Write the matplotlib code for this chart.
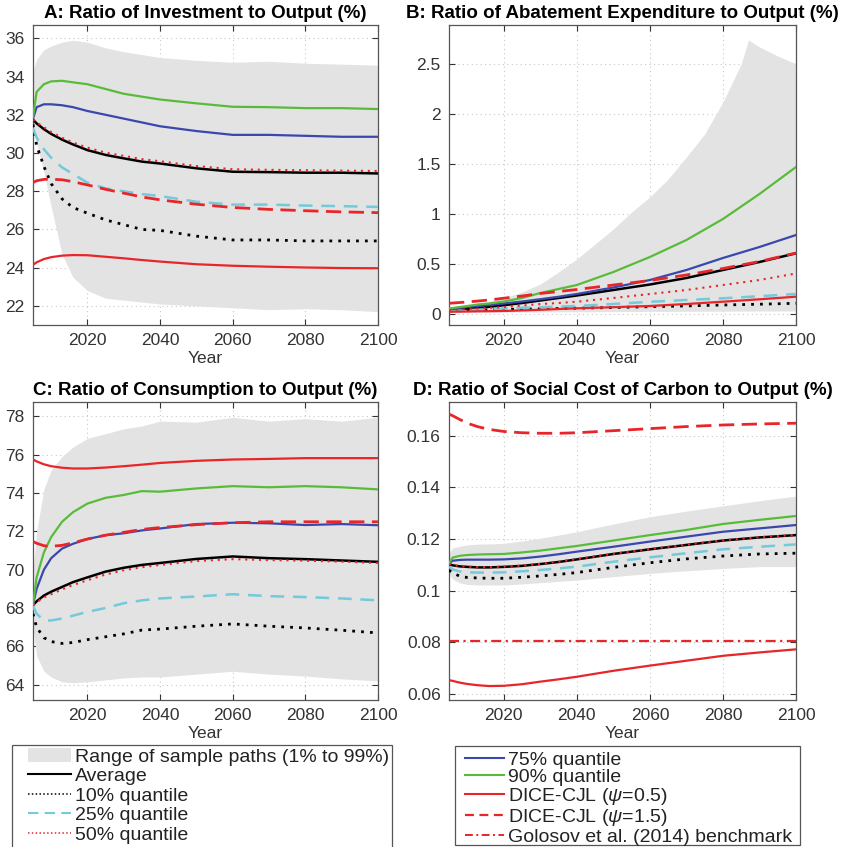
import matplotlib
matplotlib.use("Agg")
import matplotlib.pyplot as plt
from matplotlib.patches import Rectangle, Patch
from matplotlib.lines import Line2D
from matplotlib.ticker import FuncFormatter

plt.rcParams.update({
    "font.family": ["Liberation Sans", "DejaVu Sans"],
    "mathtext.fontset": "custom",
    "mathtext.it": "Liberation Sans:italic",
    "mathtext.rm": "Liberation Sans",
})

years = [2005, 2006, 2008, 2010, 2013, 2016, 2020, 2025, 2030, 2035,
         2040, 2050, 2060, 2070, 2080, 2090, 2100]

# A: investment / output (%)
inv_lo = [31.7, 30.5, 29.0, 27.2, 24.7, 23.5, 22.8, 22.4, 22.3, 22.2, 22.1, 22.0, 21.9, 21.8, 21.85, 21.8, 21.7]
inv_hi = [34.3, 34.9, 35.4, 35.6, 35.8, 35.9, 35.8, 35.5, 35.3, 35.15, 35.0, 34.85, 34.75, 34.8, 34.7, 34.65, 34.6]
inv_avg = [31.75, 31.55, 31.25, 31.0, 30.7, 30.45, 30.15, 29.9, 29.72, 29.55, 29.45, 29.2, 29.02, 29.0, 28.97, 28.97, 28.93]
inv_q10 = [31.5, 30.4, 29.3, 28.4, 27.6, 27.15, 26.85, 26.5, 26.25, 26.0, 25.95, 25.65, 25.45, 25.45, 25.4, 25.4, 25.4]
inv_q25 = [31.3, 30.8, 30.2, 29.75, 29.25, 28.9, 28.45, 28.15, 28.0, 27.85, 27.75, 27.45, 27.3, 27.3, 27.25, 27.22, 27.18]
inv_q50 = [31.75, 31.6, 31.35, 31.1, 30.8, 30.55, 30.28, 30.02, 29.85, 29.68, 29.57, 29.32, 29.15, 29.12, 29.1, 29.08, 29.06]
inv_q75 = [31.8, 32.4, 32.55, 32.55, 32.5, 32.4, 32.2, 32.0, 31.8, 31.6, 31.4, 31.15, 30.95, 30.95, 30.9, 30.85, 30.85]
inv_q90 = [31.9, 33.2, 33.6, 33.75, 33.78, 33.7, 33.6, 33.35, 33.1, 32.95, 32.8, 32.6, 32.42, 32.4, 32.35, 32.35, 32.3]
inv_cjl05 = [24.15, 24.28, 24.45, 24.55, 24.63, 24.66, 24.65, 24.57, 24.49, 24.4, 24.32, 24.18, 24.1, 24.05, 24.01, 23.98, 23.97]
inv_cjl15 = [28.45, 28.55, 28.62, 28.63, 28.6, 28.5, 28.33, 28.1, 27.9, 27.7, 27.55, 27.32, 27.15, 27.05, 26.98, 26.92, 26.88]

# B: abatement expenditure / output (%)
abt_band_years = [2005, 2010, 2015, 2020, 2025, 2030, 2035, 2040, 2045, 2050, 2055,
                  2060, 2065, 2070, 2075, 2080, 2085, 2087, 2090, 2095, 2100]
abt_lo = [0.015, 0.016, 0.018, 0.02, 0.02, 0.021, 0.022, 0.022, 0.023, 0.024, 0.025,
          0.026, 0.026, 0.027, 0.028, 0.028, 0.029, 0.029, 0.03, 0.03, 0.03]
abt_hi = [0.07, 0.09, 0.12, 0.16, 0.22, 0.3, 0.42, 0.55, 0.7, 0.85, 1.02,
          1.17, 1.35, 1.57, 1.8, 2.12, 2.5, 2.74, 2.67, 2.58, 2.5]
abt_avg = [0.04, 0.043, 0.05, 0.055, 0.063, 0.072, 0.088, 0.11, 0.135, 0.16, 0.185, 0.24, 0.295, 0.36, 0.44, 0.52, 0.607]
abt_q10 = [0.03, 0.031, 0.033, 0.035, 0.038, 0.041, 0.045, 0.049, 0.052, 0.055, 0.058, 0.065, 0.073, 0.081, 0.09, 0.098, 0.107]
abt_q25 = [0.03, 0.032, 0.035, 0.038, 0.043, 0.048, 0.055, 0.062, 0.068, 0.074, 0.08, 0.1, 0.122, 0.14, 0.157, 0.178, 0.2]
abt_q50 = [0.04, 0.042, 0.046, 0.05, 0.055, 0.06, 0.07, 0.085, 0.1, 0.11, 0.123, 0.16, 0.2, 0.24, 0.29, 0.34, 0.405]
abt_q75 = [0.05, 0.055, 0.062, 0.07, 0.08, 0.09, 0.105, 0.125, 0.148, 0.172, 0.2, 0.265, 0.34, 0.44, 0.56, 0.67, 0.79]
abt_q90 = [0.055, 0.06, 0.07, 0.08, 0.095, 0.105, 0.125, 0.16, 0.21, 0.25, 0.29, 0.42, 0.57, 0.74, 0.95, 1.2, 1.47]
abt_cjl05 = [0.022, 0.023, 0.024, 0.025, 0.027, 0.028, 0.03, 0.036, 0.042, 0.05, 0.057, 0.068, 0.08, 0.1, 0.123, 0.147, 0.173]
abt_cjl15 = [0.107, 0.11, 0.115, 0.12, 0.13, 0.14, 0.158, 0.18, 0.205, 0.225, 0.245, 0.29, 0.335, 0.39, 0.455, 0.525, 0.61]

# C: consumption / output (%)
con_lo = [67.0, 65.5, 64.7, 64.4, 64.15, 64.1, 64.15, 64.25, 64.35, 64.4, 64.4, 64.55, 64.7, 64.55, 64.45, 64.3, 64.2]
con_hi = [70.0, 72.0, 74.2, 75.2, 75.9, 76.4, 76.85, 77.1, 77.35, 77.5, 77.75, 77.7, 77.95, 77.75, 77.88, 77.75, 77.95]
con_avg = [68.15, 68.35, 68.65, 68.85, 69.1, 69.35, 69.6, 69.9, 70.1, 70.25, 70.35, 70.56, 70.69, 70.6, 70.55, 70.48, 70.41]
con_q10 = [67.7, 67.0, 66.45, 66.25, 66.15, 66.2, 66.35, 66.5, 66.65, 66.85, 66.9, 67.05, 67.17, 67.05, 66.96, 66.84, 66.7]
con_q25 = [68.1, 67.7, 67.35, 67.35, 67.45, 67.6, 67.8, 68.0, 68.25, 68.4, 68.5, 68.6, 68.72, 68.62, 68.57, 68.5, 68.4]
con_q50 = [68.15, 68.3, 68.55, 68.72, 68.97, 69.2, 69.45, 69.75, 69.97, 70.13, 70.25, 70.45, 70.55, 70.5, 70.47, 70.42, 70.35]
con_q75 = [68.2, 69.0, 70.0, 70.6, 71.1, 71.35, 71.6, 71.8, 71.9, 72.05, 72.15, 72.38, 72.45, 72.42, 72.33, 72.38, 72.32]
con_q90 = [68.2, 69.6, 70.9, 71.7, 72.5, 73.0, 73.45, 73.75, 73.9, 74.1, 74.07, 74.24, 74.36, 74.3, 74.36, 74.3, 74.19]
con_cjl05 = [75.75, 75.65, 75.5, 75.4, 75.32, 75.28, 75.28, 75.33, 75.4, 75.48, 75.57, 75.68, 75.75, 75.78, 75.82, 75.82, 75.82]
con_cjl15 = [71.47, 71.38, 71.25, 71.22, 71.27, 71.4, 71.6, 71.8, 71.95, 72.1, 72.2, 72.35, 72.45, 72.5, 72.5, 72.5, 72.5]

# D: social cost of carbon / output (%)
scc_lo = [0.1065, 0.1045, 0.103, 0.1024, 0.1022, 0.1022, 0.1022, 0.1026, 0.1031, 0.1036, 0.1041, 0.1054, 0.1067, 0.1077, 0.1086, 0.1093, 0.1093]
scc_hi = [0.1145, 0.1165, 0.1172, 0.1177, 0.118, 0.1181, 0.1183, 0.1192, 0.1203, 0.1215, 0.1228, 0.1258, 0.1286, 0.1308, 0.1328, 0.1348, 0.1366]
scc_avg = [0.1103, 0.1098, 0.1094, 0.1092, 0.109, 0.109, 0.1092, 0.1096, 0.1103, 0.1111, 0.1121, 0.1142, 0.116, 0.1177, 0.1194, 0.1206, 0.1215]
scc_q10 = [0.108, 0.1068, 0.1056, 0.1051, 0.1049, 0.1048, 0.1048, 0.1052, 0.1057, 0.1063, 0.107, 0.109, 0.1108, 0.1123, 0.1134, 0.1142, 0.1145]
scc_q25 = [0.1093, 0.1082, 0.1074, 0.1071, 0.107, 0.107, 0.1071, 0.1075, 0.108, 0.1086, 0.1093, 0.1112, 0.1129, 0.1145, 0.116, 0.117, 0.1179]
scc_q50 = [0.1104, 0.1099, 0.1095, 0.1093, 0.1091, 0.1091, 0.1093, 0.1097, 0.1104, 0.1112, 0.1122, 0.1143, 0.1161, 0.1178, 0.1195, 0.1207, 0.1216]
scc_q75 = [0.1106, 0.1116, 0.1119, 0.112, 0.112, 0.112, 0.1121, 0.1125, 0.1132, 0.1141, 0.1151, 0.117, 0.119, 0.1209, 0.1228, 0.1241, 0.1254]
scc_q90 = [0.1106, 0.1128, 0.1135, 0.1138, 0.114, 0.1141, 0.1142, 0.1148, 0.1155, 0.1164, 0.1173, 0.1194, 0.1215, 0.1235, 0.1258, 0.1274, 0.1289]
scc_cjl05 = [0.0654, 0.0651, 0.0644, 0.0639, 0.0634, 0.0631, 0.0632, 0.0638, 0.0648, 0.0657, 0.0667, 0.069, 0.071, 0.0729, 0.0748, 0.0761, 0.0773]
scc_cjl15 = [0.1683, 0.1677, 0.1662, 0.1648, 0.1634, 0.1624, 0.1616, 0.1611, 0.1609, 0.1609, 0.1611, 0.1619, 0.1627, 0.1635, 0.1641, 0.1645, 0.1648]
golosov_years = [2005, 2100]
golosov = [0.0804, 0.0804]

BAND = "#e3e3e3"
BLUE = "#3a47ad"
GREEN = "#58bc3a"
RED = "#e8262a"
CYAN = "#72cadb"
AXC = "#333333"


def draw_panel(ax, band_x, lo, hi, avg, q10, q25, q50, q75, q90, c05, c15):
    ax.fill_between(band_x, lo, hi, color=BAND, lw=0, zorder=1)
    ax.plot(years, avg, color="k", lw=1.8, zorder=3)
    ax.plot(years, q10, color="k", lw=2.0, ls=(0, (1, 2.2)), zorder=3)
    ax.plot(years, q25, color=CYAN, lw=1.8, ls=(0, (5.5, 3.5)), zorder=3)
    ax.plot(years, q50, color=RED, lw=1.5, ls=(0, (1, 2.3)), zorder=3)
    ax.plot(years, q75, color=BLUE, lw=1.6, zorder=3)
    ax.plot(years, q90, color=GREEN, lw=1.6, zorder=3)
    ax.plot(years, c05, color=RED, lw=1.6, zorder=3)
    ax.plot(years, c15, color=RED, lw=2.0, ls=(0, (5.5, 2.7)), zorder=3)


def style_axes(ax, title, yticks):
    ax.set_xlim(2005, 2100)
    ax.set_xticks([2020, 2040, 2060, 2080, 2100])
    ax.set_yticks(yticks)
    ax.yaxis.set_major_formatter(FuncFormatter(lambda v, p: "%g" % round(v, 4)))
    ax.grid(True, ls=(0, (1, 3)), color="#c8c8c8", lw=0.8, zorder=0)
    ax.set_axisbelow(True)
    ax.tick_params(direction="in", top=True, right=True, length=4, width=0.8,
                   labelsize=12.5, colors=AXC, pad=6)
    for s in ax.spines.values():
        s.set_color("#555555")
        s.set_linewidth(0.9)
    ax.set_title(title, fontsize=13.5, fontweight="bold", pad=5)
    ax.set_xlabel("Year", fontsize=12.5, color=AXC, labelpad=2)


W, H = 842, 847
fig = plt.figure(figsize=(W / 100, H / 100), dpi=100)


def add_ax(x0, y_top, x1, y_bot):
    return fig.add_axes([x0 / W, 1 - y_bot / H, (x1 - x0) / W, (y_bot - y_top) / H])


axA = add_ax(33, 25, 378, 325)
axB = add_ax(449, 25, 796, 325)
axC = add_ax(33, 402, 378, 700)
axD = add_ax(449, 402, 796, 700)

draw_panel(axA, years, inv_lo, inv_hi, inv_avg, inv_q10, inv_q25, inv_q50,
           inv_q75, inv_q90, inv_cjl05, inv_cjl15)
style_axes(axA, "A: Ratio of Investment to Output (%)", range(22, 37, 2))
axA.set_ylim(21, 36.7)

draw_panel(axB, abt_band_years, abt_lo, abt_hi, abt_avg, abt_q10, abt_q25, abt_q50,
           abt_q75, abt_q90, abt_cjl05, abt_cjl15)
style_axes(axB, "B: Ratio of Abatement Expenditure to Output (%)", [0, 0.5, 1, 1.5, 2, 2.5])
axB.set_ylim(-0.11, 2.89)

draw_panel(axC, years, con_lo, con_hi, con_avg, con_q10, con_q25, con_q50,
           con_q75, con_q90, con_cjl05, con_cjl15)
style_axes(axC, "C: Ratio of Consumption to Output (%)", range(64, 79, 2))
axC.set_ylim(63.2, 78.75)

draw_panel(axD, years, scc_lo, scc_hi, scc_avg, scc_q10, scc_q25, scc_q50,
           scc_q75, scc_q90, scc_cjl05, scc_cjl15)
axD.plot(golosov_years, golosov, color=RED, lw=1.6, ls=(0, (4.5, 2, 1, 2)), zorder=3)
style_axes(axD, "D: Ratio of Social Cost of Carbon to Output (%)",
           [0.06, 0.08, 0.1, 0.12, 0.14, 0.16])
axD.set_ylim(0.0577, 0.173)

# legend handles: thinner, MATLAB-like
h_band = Patch(facecolor=BAND, edgecolor="none")
h_avg = Line2D([], [], color="k", lw=1.5)
h_q10 = Line2D([], [], color="k", lw=1.1, ls=(0, (1, 1.5)))
h_q25 = Line2D([], [], color=CYAN, lw=1.5, ls=(0, (5, 3)))
h_q50 = Line2D([], [], color=RED, lw=1.1, ls=(0, (1, 1.5)))
h_q75 = Line2D([], [], color=BLUE, lw=1.5)
h_q90 = Line2D([], [], color=GREEN, lw=1.5)
h_c05 = Line2D([], [], color=RED, lw=1.5)
h_c15 = Line2D([], [], color=RED, lw=1.6, ls=(0, (4, 2.5)))
h_gol = Line2D([], [], color=RED, lw=1.4, ls=(0, (4, 1.8, 1, 1.8)))

legkw = dict(loc="upper left", frameon=False, fontsize=14, handletextpad=0.2,
             borderpad=0.2, borderaxespad=0)
leg1 = fig.legend([h_band, h_avg, h_q10, h_q25, h_q50],
                  ["Range of sample paths (1% to 99%)", "Average", "10% quantile",
                   "25% quantile", "50% quantile"],
                  bbox_to_anchor=(24 / W, 1 - 744 / H), handlelength=2.2,
                  labelspacing=0.1, **legkw)
leg2 = fig.legend([h_q75, h_q90, h_c05, h_c15, h_gol],
                  ["75% quantile", "90% quantile", r"DICE-CJL ($\psi$=0.5)",
                   r"DICE-CJL ($\psi$=1.5)", "Golosov et al. (2014) benchmark"],
                  bbox_to_anchor=(461 / W, 1 - 747 / H), handlelength=2.0,
                  labelspacing=0.0, **legkw)
for t in leg1.get_texts() + leg2.get_texts():
    t.set_color("#222222")

fig.patches.append(Rectangle((12 / W, 1 - 860 / H), 380 / W, 115 / H,
                             transform=fig.transFigure, fill=False,
                             edgecolor="#555555", lw=0.9))
fig.patches.append(Rectangle((455 / W, 1 - 845 / H), 345 / W, 99 / H,
                             transform=fig.transFigure, fill=False,
                             edgecolor="#555555", lw=0.9))

fig.savefig("out.png", dpi=100)
plt.close(fig)
